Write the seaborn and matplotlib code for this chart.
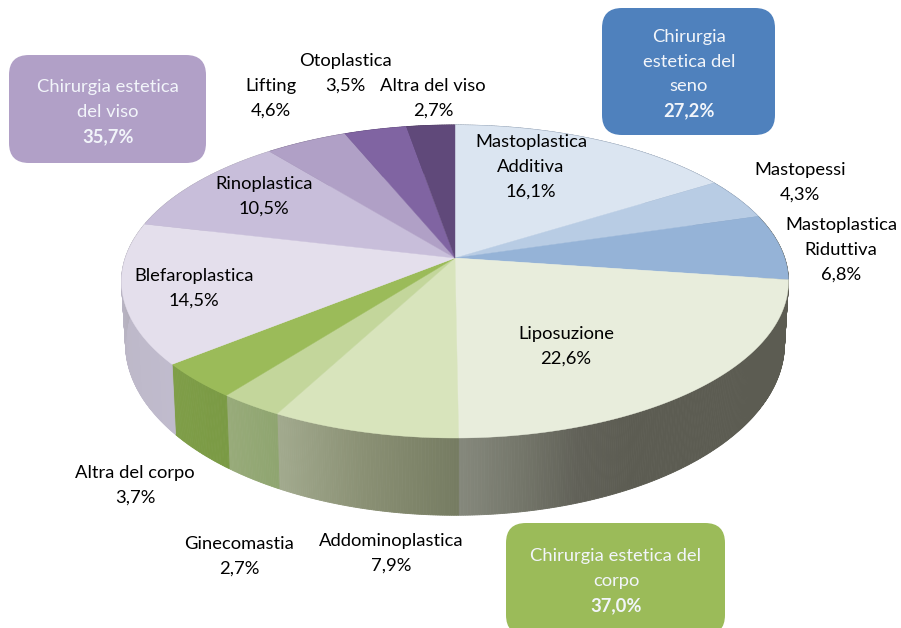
import numpy as np
import matplotlib
matplotlib.use("Agg")
import matplotlib.pyplot as plt
from matplotlib.patches import FancyBboxPatch
import seaborn as sns

# ---- data ----
names = ["Mastoplastica\nAdditiva", "Mastopessi", "Mastoplastica\nRiduttiva", "Liposuzione",
         "Addominoplastica", "Ginecomastia", "Altra del corpo", "Blefaroplastica",
         "Rinoplastica", "Lifting", "Otoplastica", "Altra del viso"]
values = [16.1, 4.3, 6.8, 22.6, 7.9, 2.7, 3.7, 14.5, 10.5, 4.6, 3.5, 2.7]
top_colors = ["#DBE5F1", "#B8CCE4", "#95B3D7", "#E8EDDC", "#D8E4BC", "#C3D69B", "#9BBB59",
              "#E4DFEC", "#C8BEDA", "#B0A0C6", "#8064A2", "#60497A"]
wall_stops = [["#6E7F96"], ["#6E7F96"], ["#5C5C52"],
              ["#5C5C52", "#5C5C52", "#5C5C52", "#5C5C52", "#5C5C52", "#5C5C52", "#5C5C52",
               "#616158", "#74766A", "#85887C"],
              ["#767C62", "#8A9074", "#A2AA8E"],
              ["#8FA570", "#98AB7A"],
              ["#7A9A44", "#7F9E48"],
              ["#C0BBCD", "#BDB8C8", "#ABA7B2"],
              ["#ABA7B2"], ["#7A6C8A"], ["#5A4672"], ["#443355"]]
group_titles = [["Chirurgia estetica", "del viso"], ["Chirurgia", "estetica del", "seno"],
                ["Chirurgia estetica del", "corpo"]]
group_values = [35.7, 27.2, 37.0]
group_colors = ["#B1A0C7", "#4F81BD", "#9BBB59"]

# ---- layout (pixel space) ----
W, H = 901, 628
CX, CY = 455, 258
A, B, K = 329.7, 153.0, 0.15
WALL_DY, WALL_SX, WALL_SY = 60, 0.988, 1.096
LINE = 24.7
FS = 13.2
label_pos = [(531, 142), (800, 170), (841, 225), (566, 334), (391, 541), (239, 544),
             (135, 473), (194, 276), (264, 184), (271, 86), (345, 61), (433, 86)]
box_rects = [(9, 55, 197, 108), (602, 8, 173, 127), (506, 523, 219, 112)]
box_text = [(108, 87), (689, 37), (616, 556)]

sns.set_theme(style="white")
plt.rcParams["font.family"] = ["Lato", "DejaVu Sans"]

fig = plt.figure(figsize=(W / 100, H / 100), dpi=100, facecolor="white")
ax = fig.add_axes([0, 0, 1, 1])
ax.set_xlim(0, W)
ax.set_ylim(H, 0)
ax.axis("off")


def rim(t, sx=1.0, sy=1.0, dy=0.0):
    x, y = np.sin(t), np.cos(t)
    w = 1 + K * y
    return CX + sx * A * x / w, CY + dy - sy * B * y / w


edges = np.cumsum([0] + values) / sum(values) * 2 * np.pi

# side wall: narrow strips with a gradient across each slice
for i in range(len(values)):
    n = max(int((edges[i + 1] - edges[i]) / 0.006), 2)
    ts = np.linspace(edges[i], edges[i + 1], n + 1)
    stops = wall_stops[i] if len(wall_stops[i]) > 1 else wall_stops[i] * 2
    pal = sns.blend_palette(stops, n)
    for j in range(n):
        t2 = np.array([ts[j], ts[j + 1]])
        xa, ya = rim(t2)
        xb, yb = rim(t2[::-1], WALL_SX, WALL_SY, WALL_DY)
        ax.fill(np.r_[xa, xb], np.r_[ya, yb], color=pal[j], lw=0.6, zorder=2)

# top face
for i in range(len(values)):
    ts = np.linspace(edges[i], edges[i + 1], 120)
    xr, yr = rim(ts)
    ax.fill(np.r_[CX, xr], np.r_[CY, yr], color=top_colors[i], lw=0.3, zorder=3)


def text_lines(cx, y0, lines, color="#000000", weights=None):
    for k, s in enumerate(lines):
        ax.text(cx, y0 + k * LINE, s, ha="center", va="center", fontsize=FS, color=color,
                fontweight=(weights[k] if weights else "normal"), zorder=6)


def pct(v):
    return f"{v:.1f}".replace(".", ",") + "%"


for name, v, (lx, ly) in zip(names, values, label_pos):
    text_lines(lx, ly, name.split("\n") + [pct(v)])

for title, v, c, (x, y, w, h), (tx, ty) in zip(group_titles, group_values, group_colors, box_rects, box_text):
    r = 20
    ax.add_patch(FancyBboxPatch((x + r, y + r), w - 2 * r, h - 2 * r,
                                boxstyle=f"round,pad={r},rounding_size={r}",
                                facecolor=c, edgecolor="none", zorder=4))
    text_lines(tx, ty, title + [pct(v)], color="#F2F5FA",
               weights=["normal"] * len(title) + ["bold"])

fig.savefig("out.png", dpi=100, facecolor="white")
